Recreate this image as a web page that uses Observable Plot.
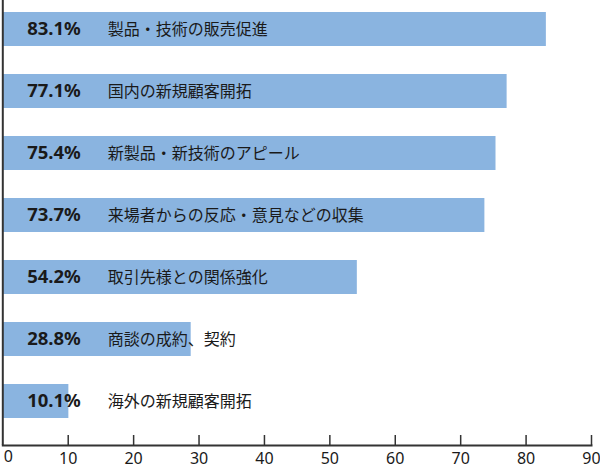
<!DOCTYPE html>
<html><head><meta charset="utf-8">
<script src="https://cdn.jsdelivr.net/npm/d3@7"></script>
<script src="https://cdn.jsdelivr.net/npm/@observablehq/plot@0.6"></script>
<style>body{margin:0;background:#fff}svg{display:block}</style>
</head><body><div id="chart"></div>
<script>
const categories = ["製品・技術の販売促進","国内の新規顧客開拓","新製品・新技術のアピール","来場者からの反応・意見などの収集","取引先様との関係強化","商談の成約、契約","海外の新規顧客開拓"];
const values = [83.1, 77.1, 75.4, 73.7, 54.2, 28.8, 10.1];
const xTicks = [0,10,20,30,40,50,60,70,80,90];
const data = categories.map((c,i)=>({cat:c, value:values[i]}));

const chart = Plot.plot({
  width: 600, height: 469,
  marginLeft: 2.3, marginRight: 9, marginTop: 0, marginBottom: 24,
  style: {fontFamily: "'Noto Sans', 'Noto Sans CJK JP', sans-serif", background: "#fff", overflow: "visible"},
  x: {domain: [0, 90], label: null},
  y: {domain: categories, range: [-2, 432], paddingInner: 0.452, paddingOuter: 0.226, axis: null},
  marks: [
    Plot.barX(data, {x: "value", y: "cat", fill: "#8ab4e0"}),
    Plot.text(data, {y: "cat", text: d => d.value.toFixed(1) + "%", frameAnchor: "left", dx: 78, textAnchor: "end", fontSize: 18.5, fontWeight: "bold", fill: "#1a1a1a", fontFamily: "'Noto Sans', sans-serif"}),
    Plot.text(data, {y: "cat", text: "cat", frameAnchor: "left", dx: 105, textAnchor: "start", fontSize: 16, fill: "#1a1a1a", fontFamily: "'Noto Sans CJK JP', sans-serif"}),
    Plot.ruleX(xTicks.slice(1), {insetTop: 435, stroke: "#333", strokeWidth: 1.5}),
    Plot.ruleX([0], {stroke: "#333", strokeWidth: 2}),
    Plot.frame({anchor: "bottom", stroke: "#333", strokeWidth: 2}),
    Plot.axisX(xTicks.slice(1), {tickSize: 0, tickPadding: 7, fontSize: 16, fill: "#1a1a1a", label: null}),
    Plot.text([0], {x: d => d, frameAnchor: "bottom", dy: 16, dx: 1, textAnchor: "start", fontSize: 16, fill: "#1a1a1a"})
  ]
});
document.getElementById("chart").appendChild(chart);
</script></body></html>
